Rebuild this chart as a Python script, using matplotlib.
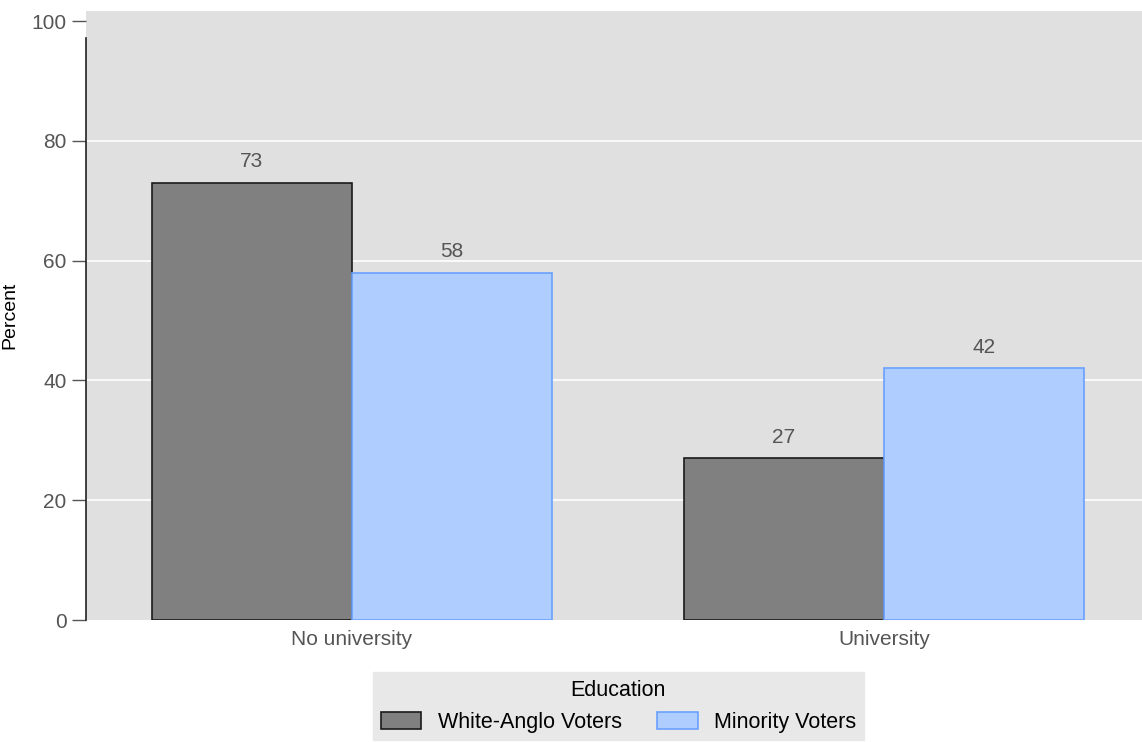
import matplotlib.pyplot as plt
import numpy as np

# Data
categories = ['No university', 'University']
white_anglo = [73, 27]
minority = [58, 42]
series_names = ['White-Anglo Voters', 'Minority Voters']

plt.rcParams['font.family'] = ['Liberation Sans', 'DejaVu Sans']

fig = plt.figure(figsize=(11.42, 7.42), dpi=100)
ax = fig.add_axes([0.0753, 0.1644, 0.9247, 0.8208])
ax.set_facecolor('#e0e0e0')

x = np.arange(len(categories))
width = 0.376

bars1 = ax.bar(x - width/2, white_anglo, width, color='#808080', edgecolor='#1a1a1a',
               linewidth=1.2, label=series_names[0], zorder=3)
bars2 = ax.bar(x + width/2, minority, width, color='#b0cdff', edgecolor='#6aa0ff',
               linewidth=1.2, label=series_names[1], zorder=3)

for bars in (bars1, bars2):
    for b in bars:
        ax.text(b.get_x() + b.get_width()/2, b.get_height() + 1.9, '%d' % b.get_height(),
                ha='center', va='bottom', fontsize=15, color='#555555')

ax.set_xlim(-0.5, 1.485)
ax.set_ylim(0, 101.7)
ax.set_yticks([0, 20, 40, 60, 80, 100])
ax.set_xticks(x)
ax.set_xticklabels(categories)

# grid
for yv in [20, 40, 60, 80]:
    ax.axhline(yv, color='white', linewidth=1.2, zorder=1)

for s in ['top', 'right', 'bottom']:
    ax.spines[s].set_visible(False)
ax.spines['left'].set_bounds(0, 97.2)
ax.spines['left'].set_color('#222222')
ax.spines['left'].set_linewidth(1.2)

ax.tick_params(axis='y', length=10, width=1, color='#555555', labelcolor='#555555',
               labelsize=15, pad=4)
ax.tick_params(axis='x', length=0, labelcolor='#555555', labelsize=15, pad=7)
ax.set_ylabel('Percent', fontsize=14)
ax.yaxis.set_label_coords(-0.0644, 0.5)

leg = fig.legend(handles=[bars1, bars2], labels=series_names, title='Education',
                 loc='lower center', bbox_to_anchor=(0.5415, -0.012), ncol=2,
                 fontsize=15.5, title_fontsize=15.5, frameon=True, fancybox=False,
                 facecolor='#e8e8e8', edgecolor='#e8e8e8', handlelength=1.9,
                 handleheight=0.85, handletextpad=0.75, columnspacing=1.65, borderpad=0.35)
leg.get_frame().set_alpha(1)

fig.savefig('out.png', dpi=100)
